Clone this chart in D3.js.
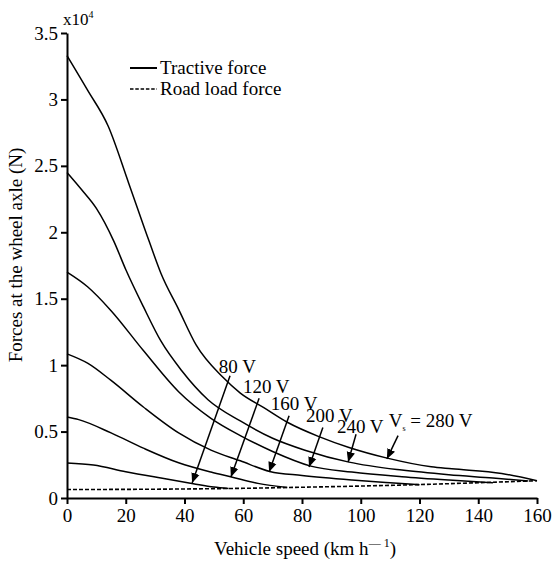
<!DOCTYPE html>
<html>
<head>
<meta charset="utf-8">
<script src="https://cdn.jsdelivr.net/npm/d3@7"></script>
<style>
body { margin: 0; background: #fff; }
text { font-family: "Liberation Serif", "Times New Roman", serif; fill: #000; }
</style>
</head>
<body>
<div id="chart"></div>
<script>
const width = 556, height = 562;
const margins = {top: 33, right: 19, bottom: 64, left: 67};

// tractive force curves, [speed km/h, force x10^4 N]
const curve280 = [[0,3.33],[7,3.07],[14,2.8],[21,2.37],[28,1.93],[32,1.69],[38,1.42],[44,1.15],[53,0.91],[59,0.79],[67,0.68],[75,0.57],[86,0.46],[96,0.38],[109,0.3],[124,0.235],[131,0.22],[148,0.185],[160,0.13]];
const curve240 = [[0,2.45],[5,2.32],[10,2.18],[16,1.93],[20,1.72],[26,1.44],[32,1.18],[39,0.96],[48,0.74],[59,0.58],[70,0.45],[81,0.36],[96,0.27],[114,0.21],[130,0.175],[145,0.15],[157,0.128]];
const curve200 = [[0,1.7],[7,1.59],[15,1.41],[26,1.11],[38,0.8],[49,0.6],[59,0.47],[70,0.35],[83,0.24],[97,0.195],[114,0.16],[130,0.135],[145,0.115]];
const curve160 = [[0,1.085],[7,1.015],[15,0.885],[26,0.685],[38,0.49],[49,0.36],[59,0.28],[69,0.2],[80,0.17],[97,0.136],[110,0.115],[120,0.1]];
const curve120 = [[0,0.61],[4,0.59],[15,0.49],[26,0.375],[38,0.265],[49,0.195],[56,0.158],[65,0.11],[75,0.079]];
const curve80 = [[0,0.264],[9,0.249],[20,0.198],[32,0.15],[43,0.108],[50,0.083],[55,0.072]];
const roadLoad = [[0,0.064],[20,0.065],[40,0.068],[60,0.073],[80,0.081],[100,0.09],[120,0.101],[140,0.115],[160,0.13]];

const xTicks = [0,20,40,60,80,100,120,140,160];
const yTicks = [0,0.5,1,1.5,2,2.5,3,3.5];

// voltage labels: text at (speed, force), arrow from tail to tip
const voltLabels = ["80 V","120 V","160 V","200 V","240 V","280 V"];
const labelPos = [[51.7,0.94],[59.9,0.79],[69.4,0.66],[81.4,0.57],[91.9,0.49],[109.5,0.535]];
const arrowTail = [[55.5,0.92],[65.4,0.75],[75.6,0.62],[87.1,0.53],[98.4,0.48],[112.7,0.47]];
const arrowTip = [[42.6,0.113],[55.8,0.158],[68.8,0.196],[82.4,0.233],[95.7,0.271],[108.9,0.294]];

const svg = d3.select("#chart").append("svg")
    .attr("width", width)
    .attr("height", height);

const xScale = d3.scaleLinear()
    .domain([0, 160])
    .range([margins.left, width - margins.right]);

const yScale = d3.scaleLinear()
    .domain([0, 3.5])
    .range([height - margins.bottom, margins.top]);

svg.append("defs").append("marker")
    .attr("id", "head")
    .attr("viewBox", "0 0 10 10")
    .attr("refX", 10)
    .attr("refY", 5)
    .attr("markerWidth", 10)
    .attr("markerHeight", 10)
    .attr("markerUnits", "userSpaceOnUse")
    .attr("orient", "auto")
  .append("path")
    .attr("d", "M0,0.8L10,5L0,9.2Z")
    .attr("fill", "#000");

const line = d3.line()
    .x(d => xScale(d[0]))
    .y(d => yScale(d[1]))
    .curve(d3.curveMonotoneX);

const tractive = [curve80, curve120, curve160, curve200, curve240, curve280];

svg.append("g")
    .selectAll("path")
    .data(tractive)
    .join("path")
    .attr("d", line)
    .attr("fill", "none")
    .attr("stroke", "#000")
    .attr("stroke-width", 1.5);

svg.append("path")
    .datum(roadLoad)
    .attr("d", line)
    .attr("fill", "none")
    .attr("stroke", "#000")
    .attr("stroke-width", 1.6)
    .attr("stroke-dasharray", "4,2");

// axes
function yAxis(g) {
    g.attr("transform", "translate(" + margins.left + ",0)")
    .call(d3.axisLeft(yScale).tickValues(yTicks).tickFormat(d3.format("~g")).tickSize(6).tickSizeOuter(0).tickPadding(3))
    .attr("font-size", "19px")
    .attr("font-family", null);
}

function xAxis(g) {
    g.attr("transform", "translate(0," + (height - margins.bottom) + ")")
    .call(d3.axisBottom(xScale).tickValues(xTicks).tickSize(6).tickSizeOuter(0).tickPadding(5))
    .attr("font-size", "19px")
    .attr("font-family", null);
}

svg.append("g").call(yAxis);
svg.append("g").call(xAxis);
svg.selectAll(".domain, .tick line").attr("stroke-width", 2);

// annotations
const ann = svg.append("g");
ann.selectAll("line")
    .data(voltLabels)
    .join("line")
    .attr("x1", (d, i) => xScale(arrowTail[i][0]))
    .attr("y1", (d, i) => yScale(arrowTail[i][1]))
    .attr("x2", (d, i) => xScale(arrowTip[i][0]))
    .attr("y2", (d, i) => yScale(arrowTip[i][1]))
    .attr("stroke", "#000")
    .attr("stroke-width", 1.5)
    .attr("marker-end", "url(#head)");

ann.selectAll("text")
    .data(voltLabels)
    .join("text")
    .attr("x", (d, i) => xScale(labelPos[i][0]))
    .attr("y", (d, i) => yScale(labelPos[i][1]))
    .attr("font-size", "19px")
    .each(function(d, i) {
        const t = d3.select(this);
        if (i == 5) {
            t.append("tspan").text("V");
            t.append("tspan").attr("font-size", "8px").attr("dy", 4).text("s");
            t.append("tspan").attr("dy", -4).text(" = " + d);
        } else {
            t.text(d);
        }
    });

// legend
const legend = svg.append("g");
legend.append("line")
    .attr("x1", 130).attr("x2", 157).attr("y1", 68).attr("y2", 68)
    .attr("stroke", "#000").attr("stroke-width", 2);
legend.append("line")
    .attr("x1", 130).attr("x2", 157).attr("y1", 89).attr("y2", 89)
    .attr("stroke", "#000").attr("stroke-width", 1.6).attr("stroke-dasharray", "3.5,1.8");
legend.append("text").attr("x", 160).attr("y", 74).attr("font-size", "19px").text("Tractive force");
legend.append("text").attr("x", 160).attr("y", 95).attr("font-size", "19px").text("Road load force");

// multiplier
const mult = svg.append("text").attr("x", 63).attr("y", 25).attr("font-size", "17px");
mult.append("tspan").text("x10");
mult.append("tspan").attr("font-size", "10px").attr("dy", -7).text("4");

// axis titles
const xt = svg.append("text")
    .attr("x", 305)
    .attr("y", 555)
    .attr("text-anchor", "middle")
    .attr("font-size", "19px");
xt.append("tspan").text("Vehicle speed (km h");
xt.append("tspan").attr("font-size", "12px").attr("dy", -8).text("\u2014\u00a01");
xt.append("tspan").attr("dy", 8).text(")");

svg.append("text")
    .attr("transform", "translate(22,255) rotate(-90)")
    .attr("text-anchor", "middle")
    .attr("font-size", "19px")
    .text("Forces at the wheel axle (N)");
</script>
</body>
</html>
